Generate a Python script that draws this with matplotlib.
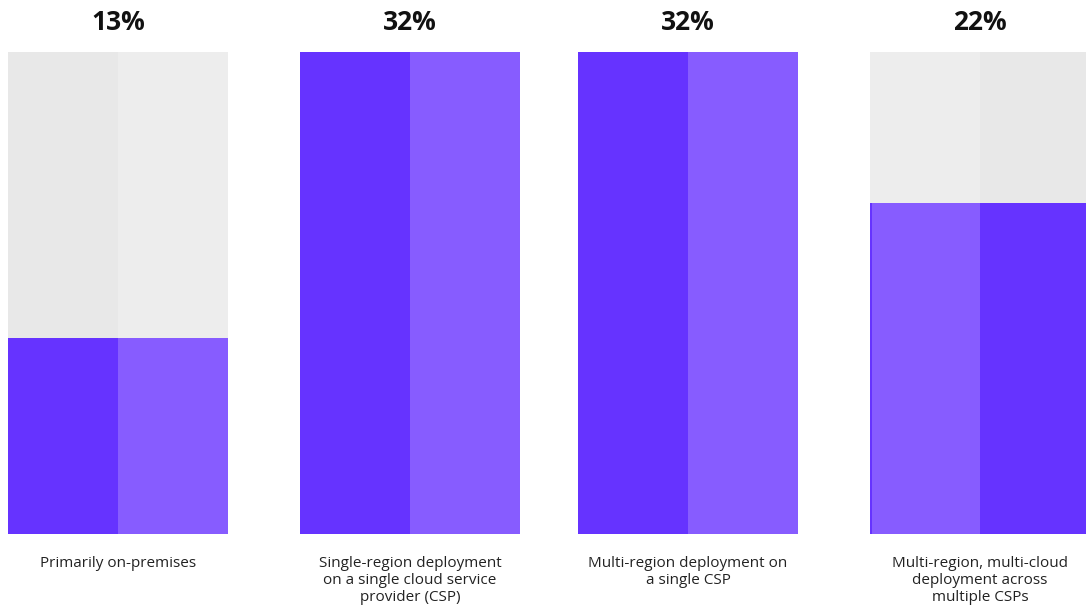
import matplotlib.pyplot as plt

plt.rcParams['font.family'] = ['Open Sans', 'DejaVu Sans']

categories = [
    "Primarily on-premises",
    "Single-region deployment\non a single cloud service\nprovider (CSP)",
    "Multi-region deployment on\na single CSP",
    "Multi-region, multi-cloud\ndeployment across\nmultiple CSPs",
]
shares = [13, 32, 32, 22]
pct_labels = ["13%", "32%", "32%", "22%"]
scale_max = 32

# layout (pixel units on a 1086x611 canvas)
centers = [118, 410, 688, 980]
half_w = 110
top_px, base_px = 52, 534
px_per_pct = (base_px - top_px) / scale_max
W, H = 1086, 611

dark = "#6633FF"
light = "#875CFF"
grey_a = "#E8E8E8"
grey_b = "#EDEDED"

fig = plt.figure(figsize=(W / 100, H / 100), dpi=100)
ax = fig.add_axes([0, 0, 1, 1])
ax.axis("off")

for i, (cx, val) in enumerate(zip(centers, shares)):
    swap = i == 3
    left_c, right_c = (light, dark) if swap else (dark, light)
    gl, gr = (grey_b, grey_a) if swap else (grey_a, grey_b)
    # grey track behind each bar
    ax.bar(cx - half_w, scale_max, width=half_w, align="edge", color=gl, lw=0)
    ax.bar(cx, scale_max, width=half_w, align="edge", color=gr, lw=0)
    # two-tone value bar
    ax.bar(cx - half_w, val, width=half_w, align="edge", color=left_c, lw=0)
    ax.bar(cx, val, width=half_w, align="edge", color=right_c, lw=0)
    if swap:
        ax.bar(cx - half_w, val, width=2, align="edge", color=dark, lw=0)

    ax.text(cx, scale_max + 29 / px_per_pct, pct_labels[i], ha="center", va="center",
            fontsize=19, fontweight="bold", color="#111111")
    ax.text(cx, -22 / px_per_pct, categories[i], ha="center", va="top",
            fontsize=11, color="#222222", linespacing=1.2)

ax.set_xlim(0, W)
ax.set_ylim(-(H - base_px) / px_per_pct, scale_max + top_px / px_per_pct)

fig.savefig("out.png", dpi=100)
